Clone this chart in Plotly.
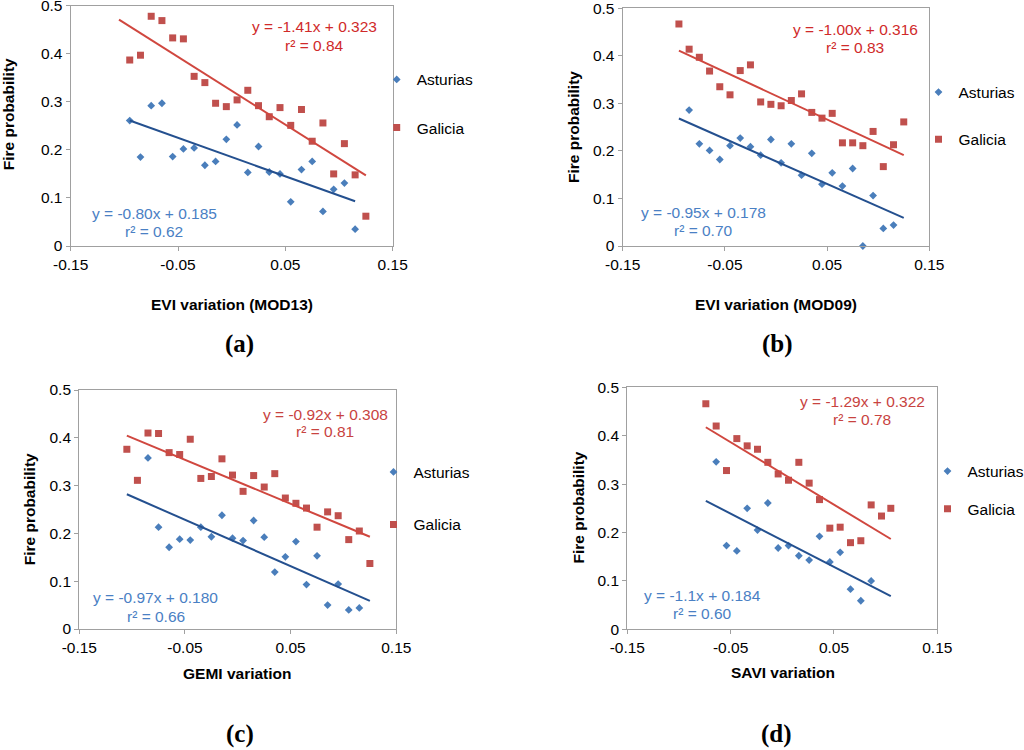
import plotly.graph_objects as go

# ---------------- data ----------------
x_tick_vals = [-0.15, -0.05, 0.05, 0.15]
x_tick_text = ["-0.15", "-0.05", "0.05", "0.15"]
y_tick_vals = [0, 0.1, 0.2, 0.3, 0.4, 0.5]
y_tick_text = ["0", "0.1", "0.2", "0.3", "0.4", "0.5"]

series_names = ["Asturias", "Galicia"]

# (a) EVI variation (MOD13)
a_gal_x = [-0.095, -0.085, -0.075, -0.065, -0.055, -0.045, -0.035, -0.025, -0.015, -0.005, 0.005, 0.015,
           0.025, 0.035, 0.045, 0.055, 0.065, 0.075, 0.085, 0.095, 0.105, 0.115, 0.125]
a_gal_y = [0.387, 0.397, 0.478, 0.469, 0.433, 0.431, 0.353, 0.340, 0.297, 0.290, 0.304, 0.324,
           0.292, 0.269, 0.288, 0.251, 0.284, 0.218, 0.256, 0.150, 0.213, 0.148, 0.062]
a_ast_x = [-0.095, -0.085, -0.075, -0.065, -0.055, -0.045, -0.035, -0.025, -0.015, -0.005, 0.005, 0.015,
           0.025, 0.035, 0.045, 0.055, 0.065, 0.075, 0.085, 0.095, 0.105, 0.115]
a_ast_y = [0.261, 0.185, 0.292, 0.297, 0.186, 0.202, 0.204, 0.168, 0.176, 0.222, 0.252, 0.153,
           0.207, 0.154, 0.150, 0.092, 0.159, 0.176, 0.072, 0.118, 0.131, 0.035]

# (b) EVI variation (MOD09)
b_gal_x = [-0.095, -0.085, -0.075, -0.065, -0.055, -0.045, -0.035, -0.025, -0.015, -0.005, 0.005, 0.015,
           0.025, 0.035, 0.045, 0.055, 0.065, 0.075, 0.085, 0.095, 0.105, 0.115, 0.125]
b_gal_y = [0.467, 0.414, 0.397, 0.368, 0.335, 0.318, 0.369, 0.381, 0.303, 0.298, 0.295, 0.306,
           0.320, 0.281, 0.269, 0.279, 0.217, 0.217, 0.211, 0.241, 0.167, 0.213, 0.261]
b_ast_x = [-0.085, -0.075, -0.065, -0.055, -0.045, -0.035, -0.025, -0.015, -0.005, 0.005, 0.015,
           0.025, 0.035, 0.045, 0.055, 0.065, 0.075, 0.085, 0.095, 0.105, 0.115]
b_ast_y = [0.286, 0.215, 0.201, 0.182, 0.211, 0.227, 0.209, 0.191, 0.224, 0.175, 0.215,
           0.149, 0.195, 0.130, 0.154, 0.126, 0.163, 0.000, 0.106, 0.037, 0.044]

# (c) GEMI variation
c_gal_x = [-0.105, -0.095, -0.085, -0.075, -0.065, -0.055, -0.045, -0.035, -0.025, -0.015, -0.005, 0.005,
           0.015, 0.025, 0.035, 0.045, 0.055, 0.065, 0.075, 0.085, 0.095, 0.105, 0.115, 0.125]
c_gal_y = [0.376, 0.311, 0.410, 0.409, 0.369, 0.365, 0.397, 0.315, 0.319, 0.356, 0.322, 0.288,
           0.321, 0.297, 0.325, 0.274, 0.263, 0.253, 0.213, 0.245, 0.237, 0.187, 0.205, 0.137]
c_ast_x = [-0.085, -0.075, -0.065, -0.055, -0.045, -0.035, -0.025, -0.015, -0.005, 0.005, 0.015,
           0.025, 0.035, 0.045, 0.055, 0.065, 0.075, 0.085, 0.095, 0.105, 0.115]
c_ast_y = [0.358, 0.213, 0.171, 0.188, 0.186, 0.213, 0.193, 0.238, 0.190, 0.185, 0.227,
           0.192, 0.119, 0.151, 0.183, 0.093, 0.153, 0.050, 0.094, 0.040, 0.044]

# (d) SAVI variation
d_gal_x = [-0.074, -0.064, -0.054, -0.044, -0.034, -0.024, -0.014, -0.004, 0.006, 0.016, 0.026,
           0.036, 0.046, 0.056, 0.066, 0.076, 0.086, 0.096, 0.105]
d_gal_y = [0.466, 0.420, 0.328, 0.394, 0.379, 0.372, 0.345, 0.321, 0.308, 0.345, 0.302,
           0.268, 0.209, 0.211, 0.179, 0.183, 0.257, 0.234, 0.250]
d_ast_x = [-0.064, -0.054, -0.044, -0.034, -0.024, -0.014, -0.004, 0.006, 0.016, 0.026,
           0.036, 0.046, 0.056, 0.066, 0.076, 0.086]
d_ast_y = [0.346, 0.173, 0.162, 0.250, 0.205, 0.261, 0.168, 0.173, 0.152, 0.143,
           0.192, 0.139, 0.159, 0.083, 0.059, 0.100]

# linear trend lines: slope, intercept (as printed) and x extent
trend_slope = {"a": (-0.80, -1.41), "b": (-0.95, -1.00), "c": (-0.97, -0.92), "d": (-1.1, -1.29)}
trend_icpt = {"a": (0.185, 0.323), "b": (0.178, 0.316), "c": (0.180, 0.308), "d": (0.184, 0.322)}
trend_xext = {"a": ((-0.095, 0.115), (-0.105, 0.125)),
              "b": ((-0.095, 0.125), (-0.095, 0.125)),
              "c": ((-0.105, 0.125), (-0.105, 0.125)),
              "d": ((-0.074, 0.105), (-0.074, 0.105))}
eq_text = {"a": (("y = -0.80x + 0.185", "r² = 0.62"), ("y = -1.41x + 0.323", "r² = 0.84")),
           "b": (("y = -0.95x + 0.178", "r² = 0.70"), ("y = -1.00x + 0.316", "r² = 0.83")),
           "c": (("y = -0.97x + 0.180", "r² = 0.66"), ("y = -0.92x + 0.308", "r² = 0.81")),
           "d": (("y = -1.1x + 0.184", "r² = 0.60"), ("y = -1.29x + 0.322", "r² = 0.78"))}
x_titles = {"a": "EVI variation (MOD13)", "b": "EVI variation (MOD09)",
            "c": "GEMI variation", "d": "SAVI variation"}
panel_labels = {"a": "(a)", "b": "(b)", "c": "(c)", "d": "(d)"}

# ---------------- styling / layout ----------------
W, H = 1024, 750
FONT = "Liberation Sans, Arial, sans-serif"
BLUE = "#4A7EBB"
RED = "#C0504D"
BLUE_LINE = "#24508F"
RED_LINE = "#D0473F"
BLUE_TXT = "#4A80C4"
RED_TXT = {"a": "#D02A2A", "b": "#D02A2A", "c": "#C8433F", "d": "#C8433F"}
AXIS = "#A0A0A0"
FS = 15.5

# plot boxes in pixels: left, right, top, bottom
boxes = {"a": (70.7, 392.7, 5.7, 246.0),
         "b": (622.7, 929.3, 8.3, 246.0),
         "c": (79.3, 396.3, 390.0, 629.0),
         "d": (627.3, 937.3, 387.3, 629.3)}
# equation centres (pixels): (blue line1, blue line2), (red line1, red line2)
eq_pos = {"a": (((154, 213.3), (154, 231)), ((314, 26.7), (314, 45))),
          "b": (((703.5, 212.3), (703.5, 230.7)), ((855.3, 29.3), (855.3, 47.3))),
          "c": (((155.8, 597.7), (155.8, 616.7)), ((325.3, 414), (325.3, 431.7))),
          "d": (((702.6, 595), (702.6, 613.3)), ((862.1, 401.7), (862.1, 419)))}
ytitle_pos = {"a": (8.3, 114), "b": (573.3, 126.7), "c": (29.3, 509), "d": (578, 507.5)}
xtitle_pos = {"a": (231.5, 304), "b": (776, 304), "c": (237.8, 673), "d": (782.5, 672.7)}
label_pos = {"a": (239, 344), "b": (777, 344), "c": (240, 733.5), "d": (776, 733.5)}
# legend: x where entry text starts, y of first and second entry
legend_pos = {"a": (416.7, 79.3, 128.3), "b": (958.5, 92, 140), "c": (413.5, 471.7, 525),
              "d": (967.5, 470.7, 509.3)}

data = {"a": (a_ast_x, a_ast_y, a_gal_x, a_gal_y),
        "b": (b_ast_x, b_ast_y, b_gal_x, b_gal_y),
        "c": (c_ast_x, c_ast_y, c_gal_x, c_gal_y),
        "d": (d_ast_x, d_ast_y, d_gal_x, d_gal_y)}


def px(x):
    return x / W


def py(y):
    return 1 - y / H


fig = go.Figure()
annotations = []
layout = dict(width=W, height=H, margin=dict(l=0, r=0, t=0, b=0, autoexpand=False),
              paper_bgcolor="white", plot_bgcolor="white",
              font=dict(family=FONT, size=FS, color="black"))

for i, k in enumerate(["a", "b", "c", "d"]):
    n = "" if i == 0 else str(i + 1)
    xa, ya = "x" + n, "y" + n
    leg = "legend" + n
    ax_x, ay_y, gx, gy = data[k]
    # scatter points
    fig.add_trace(go.Scatter(x=ax_x, y=ay_y, mode="markers", name=series_names[0],
                             marker=dict(symbol="diamond", size=6, color=BLUE),
                             xaxis=xa, yaxis=ya, legend=leg, legendgroup=k + "ast", cliponaxis=False))
    fig.add_trace(go.Scatter(x=gx, y=gy, mode="markers", name=series_names[1],
                             marker=dict(symbol="square", size=7, color=RED),
                             xaxis=xa, yaxis=ya, legend=leg, legendgroup=k + "gal", cliponaxis=False))
    # trend lines
    for j, col in enumerate([BLUE_LINE, RED_LINE]):
        x0, x1 = trend_xext[k][j]
        s, b = trend_slope[k][j], trend_icpt[k][j]
        fig.add_trace(go.Scatter(x=[x0, x1], y=[s * x0 + b, s * x1 + b], mode="lines",
                                 line=dict(color=col, width=2), showlegend=False,
                                 xaxis=xa, yaxis=ya, hoverinfo="skip"))
    l, r, t, bt = boxes[k]
    axis_common = dict(showgrid=False, zeroline=False, showline=True, linecolor=AXIS, linewidth=1.3,
                       mirror=True, ticks="outside", ticklen=4, tickcolor=AXIS, tickwidth=1.3,
                       tickfont=dict(family=FONT, size=FS, color="black"), fixedrange=True,
                       automargin=False, ticklabeloverflow="allow")
    layout["xaxis" + n] = dict(domain=[px(l), px(r)], range=[-0.15, 0.15], tickvals=x_tick_vals,
                               ticktext=x_tick_text, anchor=ya, **axis_common)
    layout["yaxis" + n] = dict(domain=[py(bt), py(t)], range=[0, 0.5], tickvals=y_tick_vals,
                               ticktext=y_tick_text, anchor=xa, **axis_common)
    tx, ly1, ly2 = legend_pos[k]
    layout[leg] = dict(x=px(tx - 40), y=py((ly1 + ly2) / 2), xanchor="left", yanchor="middle",
                       bgcolor="rgba(0,0,0,0)", font=dict(family=FONT, size=FS, color="black"),
                       traceorder="grouped", tracegroupgap=(ly2 - ly1) - 24, itemsizing="trace")
    # equations
    for j, colr in enumerate([BLUE_TXT, RED_TXT[k]]):
        for line in range(2):
            cx, cy = eq_pos[k][j][line]
            annotations.append(dict(x=px(cx), y=py(cy), xref="paper", yref="paper", showarrow=False,
                                    text=eq_text[k][j][line], xanchor="center", yanchor="middle",
                                    font=dict(family=FONT, size=FS, color=colr)))
    # axis titles
    cx, cy = ytitle_pos[k]
    annotations.append(dict(x=px(cx), y=py(cy), xref="paper", yref="paper", showarrow=False,
                            text="<b>Fire probability</b>", textangle=-90, xanchor="center",
                            yanchor="middle", font=dict(family=FONT, size=FS, color="black")))
    cx, cy = xtitle_pos[k]
    annotations.append(dict(x=px(cx), y=py(cy), xref="paper", yref="paper", showarrow=False,
                            text="<b>" + x_titles[k] + "</b>", xanchor="center", yanchor="middle",
                            font=dict(family=FONT, size=FS, color="black")))
    cx, cy = label_pos[k]
    annotations.append(dict(x=px(cx), y=py(cy), xref="paper", yref="paper", showarrow=False,
                            text="<b>" + panel_labels[k] + "</b>", xanchor="center", yanchor="middle",
                            borderpad=0,
                            font=dict(family="Liberation Serif, Times New Roman, serif", size=25,
                                      color="black")))

layout["annotations"] = annotations
fig.update_layout(**layout)
fig.write_html("out.html", config={"displayModeBar": False},
               post_script="document.body.style.margin='0px';document.body.style.overflow='hidden';")
